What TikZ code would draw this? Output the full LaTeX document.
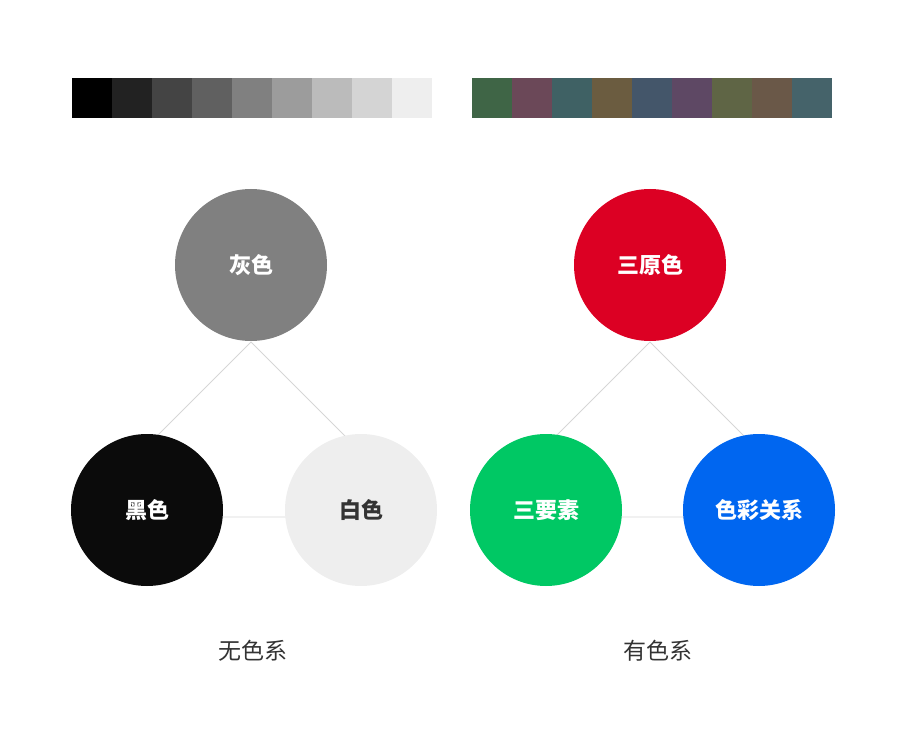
\documentclass[tikz,border=0pt]{standalone}
\usepackage{fontspec}
\newfontfamily\cjk{Noto Sans CJK SC}
\definecolor{linegray}{HTML}{D6D6D6}
\definecolor{labelgray}{HTML}{333333}
\definecolor{grayball}{HTML}{808080}
\definecolor{blackball}{HTML}{0B0B0B}
\definecolor{whiteball}{HTML}{EEEEEE}
\definecolor{redball}{HTML}{DC0023}
\definecolor{greenball}{HTML}{00C864}
\definecolor{blueball}{HTML}{0066F0}
\tikzset{ball/.style={circle, minimum size=152pt, inner sep=0pt, text=white, font=\cjk\bfseries\fontsize{22}{22}\selectfont},
link/.style={draw=linegray, line width=0.9pt},
caption/.style={text=labelgray, font=\cjk\fontsize{23}{23}\selectfont}}
\begin{document}
\begin{tikzpicture}[x=1pt,y=-1pt]
\useasboundingbox (0,0) rectangle (900,743);
\foreach \c [count=\i from 0] in {000000,222222,444444,606060,808080,9C9C9C,BBBBBB,D4D4D4,EEEEEE} {\definecolor{sw}{HTML}{\c}\fill[sw] (72+40*\i,78) rectangle (112+40*\i,118);}
\foreach \c [count=\i from 0] in {3F6546,6B4858,3F6164,6B5C40,44566A,5E4864,5F6545,6A5848,45636A} {\definecolor{sw}{HTML}{\c}\fill[sw] (472+40*\i,78) rectangle (512+40*\i,118);}
\coordinate (grayapex) at (251,342);\coordinate (blackcorner) at (76,517);\coordinate (whitecorner) at (426,517);
\coordinate (redapex) at (650,342);\coordinate (greencorner) at (475,517);\coordinate (bluecorner) at (825,517);
\draw[link] (grayapex) -- (blackcorner) -- (whitecorner) -- cycle;
\draw[link] (redapex) -- (greencorner) -- (bluecorner) -- cycle;
\node[ball, fill=grayball] (gray) at (251,265) {灰色};
\node[ball, fill=blackball] (black) at (147,510) {黑色};
\node[ball, fill=whiteball, text=labelgray] (white) at (361,510) {白色};
\node[ball, fill=redball] (red) at (650,265) {三原色};
\node[ball, fill=greenball] (green) at (546,510) {三要素};
\node[ball, fill=blueball] (blue) at (759,510) {色彩关系};
\node[caption] (achromatic) at (253,651) {无色系};
\node[caption] (chromatic) at (658,651) {有色系};
\end{tikzpicture}
\end{document}
